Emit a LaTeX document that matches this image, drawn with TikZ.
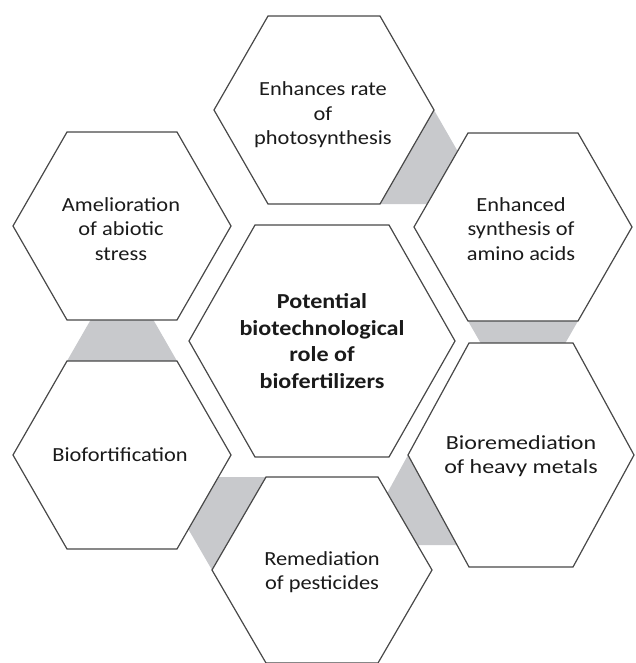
\documentclass[tikz,border=0pt]{standalone}
\usepackage{fontspec}
\setmainfont{Carlito}[FakeStretch=1.12]
\newfontfamily\hubfont{Carlito}[FakeStretch=1.13]
\newfontfamily\widefont{Carlito}[FakeStretch=1.2]
\usetikzlibrary{calc,backgrounds}

\definecolor{linkgray}{RGB}{200,201,204}
\definecolor{edgegray}{RGB}{72,72,72}
\definecolor{textgray}{RGB}{26,26,26}

\begin{document}
\begin{tikzpicture}[x=0.75pt,y=-0.75pt]
  \tikzstyle{hexagon} = [draw=edgegray, fill=white, line width=0.9pt, line join=miter]
  \tikzstyle{caption} = [align=center, text=textgray, inner sep=0pt, font=\fontsize{15}{18.4}\selectfont]
  \tikzstyle{link} = [fill=linkgray]

  \useasboundingbox (0,0) rectangle (635,663);

  % corners 1..6 run anticlockwise from the right vertex
  \foreach \id/\cx/\cy/\w/\h/\a in {photo/324/110/110/94/56, amino/523/227/109/94/55,
      abiotic/122/226/109/94/55, hub/322/341/133/116/67, biofort/122/455/109/94/55,
      pest/322/570/110/93/56, heavy/521/455/113/112/52} {
    \coordinate (\id-1) at (\cx+\w,\cy);
    \coordinate (\id-2) at (\cx+\a,\cy-\h);
    \coordinate (\id-3) at (\cx-\a,\cy-\h);
    \coordinate (\id-4) at (\cx-\w,\cy);
    \coordinate (\id-5) at (\cx-\a,\cy+\h);
    \coordinate (\id-6) at (\cx+\a,\cy+\h);
    \draw[hexagon] (\id-1) -- (\id-2) -- (\id-3) -- (\id-4) -- (\id-5) -- (\id-6) -- cycle;
  }

  % grey bands between neighbours, the far ends tucked under the next cell
  \begin{scope}[on background layer]
    \fill[link] (photo-1) -- ($(photo-2)!1.8!(photo-1)$) -- ($(photo-5)!1.7!(photo-6)$) -- (photo-6) -- cycle;
    \fill[link] (amino-5) -- ($(amino-4)!1.4!(amino-5)$) -- ($(amino-1)!1.4!(amino-6)$) -- (amino-6) -- cycle;
    \fill[link] (biofort-3) -- ($(biofort-4)!1.6!(biofort-3)$) -- ($(biofort-1)!1.6!(biofort-2)$) -- (biofort-2) -- cycle;
    \fill[link] (pest-3) -- ($(pest-2)!1.7!(pest-3)$) -- ($(pest-5)!1.6!(pest-4)$) -- (pest-4) -- cycle;
    \fill[link] (heavy-4) -- ($(heavy-3)!1.45!(heavy-4)$) -- ($(pest-1)+(-27,-25)$) -- ($(heavy-4)+(62,90)$) -- cycle;
  \end{scope}

  \node[caption] (photo) at (323,115) {Enhances rate\\of\\photosynthesis};
  \node[caption] (amino) at (521,229) {Enhanced\\synthesis of\\amino acids};
  \node[caption] (abiotic) at (121,229) {Amelioration\\of abiotic\\stress};
  \node[caption, font=\hubfont\bfseries\fontsize{16}{20}\selectfont] (hub) at (322,341) {Potential\\biotechnological\\role of\\biofertilizers};
  \node[caption] (biofort) at (120,455) {Biofortification};
  \node[caption] (pest) at (322,572) {Remediation\\of pesticides};
  \node[caption, font=\widefont\fontsize{15}{18.4}\selectfont] (heavy) at (521,456) {Bioremediation\\of heavy metals};
\end{tikzpicture}
\end{document}
